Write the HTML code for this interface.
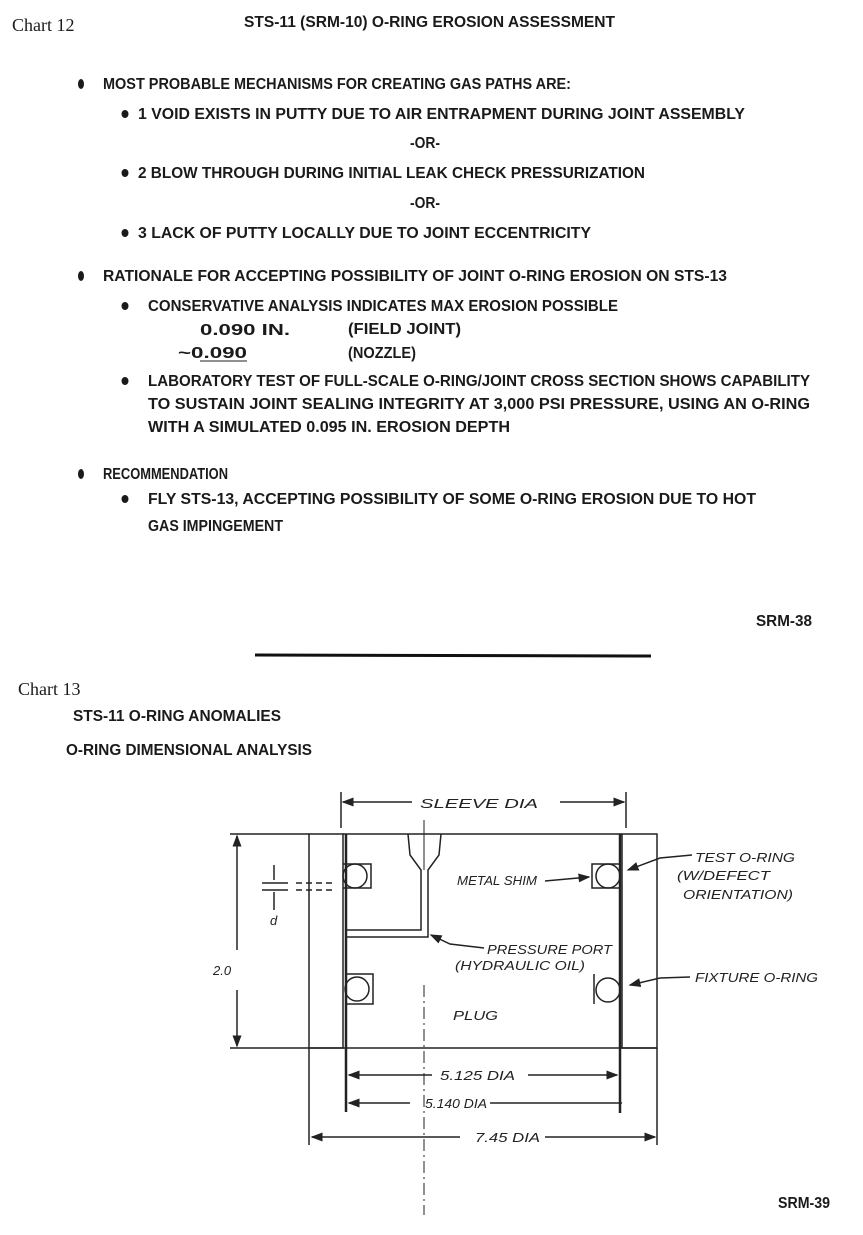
<!DOCTYPE html>
<html><head><meta charset="utf-8"><style>
html,body{margin:0;padding:0;background:#fff;}
svg{display:block}
.t{font-family:"Liberation Sans",sans-serif;font-size:16px;font-weight:bold;fill:#1a1a1a;}
.s{font-family:"Liberation Serif",serif;font-size:18px;fill:#1a1a1a;}
.h{font-family:"Liberation Sans",sans-serif;font-style:italic;font-size:13px;fill:#222;}
</style></head><body>
<svg width="863" height="1235" viewBox="0 0 863 1235" xmlns="http://www.w3.org/2000/svg">
<defs><marker id="a" markerWidth="8" markerHeight="8" refX="7" refY="4" orient="auto"><path d="M0,1 L8,4 L0,7 z" fill="#222"/></marker></defs>
<rect width="863" height="1235" fill="#fff"/>
<text class="s" x="12" y="31">Chart 12</text>
<text class="t" x="244" y="27" textLength="371" lengthAdjust="spacingAndGlyphs">STS-11 (SRM-10) O-RING EROSION ASSESSMENT</text>
<g fill="#1a1a1a">
<ellipse cx="81" cy="84" rx="3" ry="5"/><ellipse cx="125" cy="114" rx="3.5" ry="4"/><ellipse cx="125" cy="173" rx="3.5" ry="4"/><ellipse cx="125" cy="233" rx="3.5" ry="4"/>
<ellipse cx="81" cy="276" rx="3" ry="5"/><ellipse cx="125" cy="306" rx="3.5" ry="4"/><ellipse cx="125" cy="381" rx="3.5" ry="4"/>
<ellipse cx="81" cy="474" rx="3" ry="5"/><ellipse cx="125" cy="499" rx="3.5" ry="4"/>
</g>
<text class="t" x="103" y="89" textLength="468" lengthAdjust="spacingAndGlyphs">MOST PROBABLE MECHANISMS FOR CREATING GAS PATHS ARE:</text>
<text class="t" x="138" y="119" textLength="607" lengthAdjust="spacingAndGlyphs">1  VOID EXISTS IN PUTTY DUE TO AIR ENTRAPMENT DURING JOINT ASSEMBLY</text>
<text class="t" x="410" y="148" textLength="30" lengthAdjust="spacingAndGlyphs">-OR-</text>
<text class="t" x="138" y="178" textLength="507" lengthAdjust="spacingAndGlyphs">2  BLOW THROUGH DURING INITIAL LEAK CHECK PRESSURIZATION</text>
<text class="t" x="410" y="208" textLength="30" lengthAdjust="spacingAndGlyphs">-OR-</text>
<text class="t" x="138" y="238" textLength="453" lengthAdjust="spacingAndGlyphs">3  LACK OF PUTTY LOCALLY DUE TO JOINT ECCENTRICITY</text>
<text class="t" x="103" y="281" textLength="624" lengthAdjust="spacingAndGlyphs">RATIONALE FOR ACCEPTING POSSIBILITY OF JOINT O-RING EROSION ON STS-13</text>
<text class="t" x="148" y="311" textLength="470" lengthAdjust="spacingAndGlyphs">CONSERVATIVE ANALYSIS INDICATES MAX EROSION POSSIBLE</text>
<text class="t" x="200" y="335" textLength="90" lengthAdjust="spacingAndGlyphs">0.090 IN.</text>
<text class="t" x="348" y="334" textLength="113" lengthAdjust="spacingAndGlyphs">(FIELD JOINT)</text>
<text class="t" x="178" y="358" textLength="69" lengthAdjust="spacingAndGlyphs">~0.090</text>
<line x1="200" y1="361" x2="247" y2="361" stroke="#222"/>
<text class="t" x="348" y="358" textLength="68" lengthAdjust="spacingAndGlyphs">(NOZZLE)</text>
<text class="t" x="148" y="386" textLength="662" lengthAdjust="spacingAndGlyphs">LABORATORY TEST OF FULL-SCALE O-RING/JOINT CROSS SECTION SHOWS CAPABILITY</text>
<text class="t" x="148" y="409" textLength="662" lengthAdjust="spacingAndGlyphs">TO SUSTAIN JOINT SEALING INTEGRITY AT 3,000 PSI PRESSURE, USING AN O-RING</text>
<text class="t" x="148" y="432" textLength="362" lengthAdjust="spacingAndGlyphs">WITH A SIMULATED 0.095 IN. EROSION DEPTH</text>
<text class="t" x="103" y="479" textLength="125" lengthAdjust="spacingAndGlyphs">RECOMMENDATION</text>
<text class="t" x="148" y="504" textLength="608" lengthAdjust="spacingAndGlyphs">FLY STS-13, ACCEPTING POSSIBILITY OF SOME O-RING EROSION DUE TO HOT</text>
<text class="t" x="148" y="531" textLength="135" lengthAdjust="spacingAndGlyphs">GAS IMPINGEMENT</text>
<text class="t" x="756" y="626" textLength="56" lengthAdjust="spacingAndGlyphs">SRM-38</text>
<line x1="255" y1="655" x2="651" y2="656" stroke="#111" stroke-width="3"/>
<text class="s" x="18" y="695">Chart 13</text>
<text class="t" x="73" y="721" textLength="208" lengthAdjust="spacingAndGlyphs">STS-11 O-RING ANOMALIES</text>
<text class="t" x="66" y="755" textLength="246" lengthAdjust="spacingAndGlyphs">O-RING DIMENSIONAL ANALYSIS</text>
<text class="t" x="778" y="1208" textLength="52" lengthAdjust="spacingAndGlyphs">SRM-39</text>

<g stroke="#222" fill="none" stroke-width="1.5">
<line x1="341" y1="792" x2="341" y2="828"/><line x1="626" y1="792" x2="626" y2="828"/>
<line x1="412" y1="802" x2="343" y2="802" marker-end="url(#a)"/>
<line x1="560" y1="802" x2="624" y2="802" marker-end="url(#a)"/>
<rect x="309" y="834" width="34" height="214"/>
<rect x="622" y="834" width="35" height="214"/>
<line x1="343" y1="834" x2="622" y2="834"/>
<line x1="230" y1="834" x2="309" y2="834"/>
<line x1="230" y1="1048" x2="657" y2="1048"/>
<line x1="346" y1="834" x2="346" y2="1112" stroke-width="2.5"/>
<line x1="620" y1="834" x2="620" y2="1113" stroke-width="2.5"/>
<path d="M408,834 L410,855 L421,870 L421,930 L346,930"/>
<path d="M441,834 L439,855 L428,870 L428,937 L346,937"/>
<line x1="424" y1="820" x2="424" y2="870" stroke-width="1"/>
<circle cx="355" cy="876" r="12"/><path d="M343,864 H371 V888 H343"/>
<circle cx="357" cy="989" r="12"/><rect x="346" y="974" width="27" height="30"/>
<circle cx="608" cy="876" r="12"/><path d="M620,864 H592 V888 H620"/>
<circle cx="608" cy="990" r="12"/><line x1="594" y1="974" x2="594" y2="1004"/>
<line x1="237" y1="950" x2="237" y2="836" marker-end="url(#a)"/>
<line x1="237" y1="990" x2="237" y2="1046" marker-end="url(#a)"/>
<line x1="274" y1="865" x2="274" y2="880"/><line x1="274" y1="892" x2="274" y2="910"/>
<line x1="262" y1="883" x2="288" y2="883"/><line x1="262" y1="890" x2="288" y2="890"/>
<line x1="296" y1="883" x2="336" y2="883" stroke-dasharray="6,4"/>
<line x1="296" y1="890" x2="336" y2="890" stroke-dasharray="6,4"/>
<line x1="432" y1="1075" x2="349" y2="1075" marker-end="url(#a)"/>
<line x1="528" y1="1075" x2="617" y2="1075" marker-end="url(#a)"/>
<line x1="410" y1="1103" x2="349" y2="1103" marker-end="url(#a)"/>
<line x1="490" y1="1103" x2="622" y2="1103"/>
<line x1="309" y1="1048" x2="309" y2="1145"/><line x1="657" y1="1048" x2="657" y2="1145"/>
<line x1="460" y1="1137" x2="312" y2="1137" marker-end="url(#a)"/>
<line x1="545" y1="1137" x2="655" y2="1137" marker-end="url(#a)"/>
<line x1="424" y1="985" x2="424" y2="1215" stroke-width="1" stroke-dasharray="12,4,2,4"/>
<line x1="545" y1="881" x2="589" y2="877" marker-end="url(#a)"/>
<path d="M692,855 L660,858 L628,870" marker-end="url(#a)"/>
<path d="M484,948 L450,944 L431,935" marker-end="url(#a)"/>
<path d="M690,977 L660,978 L630,985" marker-end="url(#a)"/>
</g>
<text class="h" x="420" y="808" font-size="16" textLength="118" lengthAdjust="spacingAndGlyphs">SLEEVE DIA</text>
<text class="h" x="213" y="975" font-size="15">2.0</text>
<text class="h" x="270" y="925" font-size="15">d</text>
<text class="h" x="457" y="885" textLength="80" lengthAdjust="spacingAndGlyphs">METAL SHIM</text>
<text class="h" x="695" y="862" textLength="100" lengthAdjust="spacingAndGlyphs">TEST O-RING</text>
<text class="h" x="677" y="880" textLength="93" lengthAdjust="spacingAndGlyphs">(W/DEFECT</text>
<text class="h" x="683" y="899" textLength="110" lengthAdjust="spacingAndGlyphs">ORIENTATION)</text>
<text class="h" x="487" y="954" textLength="125" lengthAdjust="spacingAndGlyphs">PRESSURE PORT</text>
<text class="h" x="455" y="970" textLength="130" lengthAdjust="spacingAndGlyphs">(HYDRAULIC OIL)</text>
<text class="h" x="695" y="982" textLength="123" lengthAdjust="spacingAndGlyphs">FIXTURE O-RING</text>
<text class="h" x="453" y="1020" textLength="45" lengthAdjust="spacingAndGlyphs">PLUG</text>
<text class="h" x="440" y="1080" textLength="75" lengthAdjust="spacingAndGlyphs">5.125 DIA</text>
<text class="h" x="425" y="1108" textLength="62" lengthAdjust="spacingAndGlyphs">5.140 DIA</text>
<text class="h" x="475" y="1142" textLength="65" lengthAdjust="spacingAndGlyphs">7.45 DIA</text>
</svg>
</body></html>
